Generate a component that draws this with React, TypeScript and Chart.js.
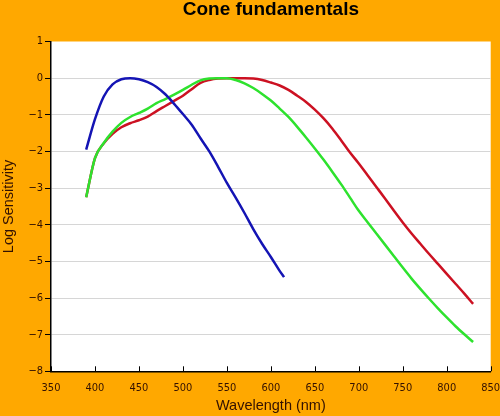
import React, { useEffect, useRef } from "react";
import { Chart, registerables } from "chart.js";

Chart.register(...registerables);

const titleText = "Cone fundamentals";
const xTitle = "Wavelength (nm)";
const yTitle = "Log Sensitivity";

const xMin = 350;
const xMax = 850;
const xStep = 50;
const yMin = -8;
const yMax = 1;
const yStep = 1;

const blueNm = [390, 400, 410, 420, 430, 440, 450, 460, 470, 480, 490, 500, 510, 520, 530, 540, 550, 560, 570, 580, 590, 600, 610, 615];
const blueLog = [-1.95, -1.12, -0.5, -0.17, -0.03, 0.0, -0.03, -0.11, -0.24, -0.44, -0.7, -0.98, -1.27, -1.64, -2.0, -2.42, -2.86, -3.26, -3.68, -4.12, -4.52, -4.88, -5.26, -5.43];

const lmNm = [390, 400, 410, 420, 430, 440, 450, 460, 470, 480, 490, 500, 510, 520, 530, 540, 550, 560, 570, 580, 590, 600, 610, 620, 630, 640, 650, 660, 670, 680, 690, 700, 710, 720, 730, 740, 750, 760, 770, 780, 790, 800, 810, 820, 830];
const redLog = [-3.25, -2.18, -1.78, -1.52, -1.34, -1.23, -1.15, -1.05, -0.9, -0.76, -0.62, -0.48, -0.3, -0.13, -0.05, -0.01, 0.0, 0.0, 0.0, -0.01, -0.05, -0.12, -0.2, -0.32, -0.48, -0.65, -0.86, -1.1, -1.38, -1.7, -2.03, -2.33, -2.65, -2.97, -3.29, -3.62, -3.94, -4.24, -4.52, -4.8, -5.07, -5.34, -5.61, -5.88, -6.16];
const greenLog = [-3.25, -2.18, -1.77, -1.46, -1.22, -1.06, -0.95, -0.83, -0.68, -0.57, -0.45, -0.32, -0.18, -0.06, -0.01, 0.0, 0.0, -0.05, -0.14, -0.27, -0.43, -0.61, -0.83, -1.06, -1.33, -1.62, -1.92, -2.23, -2.56, -2.9, -3.26, -3.62, -3.93, -4.24, -4.55, -4.86, -5.17, -5.47, -5.75, -6.02, -6.28, -6.53, -6.77, -6.99, -7.2];

const toPoints = (xs: number[], ys: number[]) => xs.map((x, i) => ({ x, y: ys[i] }));

const textColor = "#331100";

const plotBgPlugin = {
  id: "plotBg",
  beforeDraw(chart: any) {
    const { ctx, chartArea } = chart;
    ctx.save();
    ctx.fillStyle = "#ffffff";
    ctx.fillRect(chartArea.left, chartArea.top, chartArea.right - chartArea.left, chartArea.bottom - chartArea.top);
    ctx.restore();
  },
};

const innerTicksPlugin = {
  id: "innerTicks",
  afterDatasetsDraw(chart: any) {
    const { ctx } = chart;
    const xs = chart.scales.x;
    ctx.save();
    ctx.strokeStyle = "#000000";
    ctx.lineWidth = 1;
    xs.ticks.forEach((t: any) => {
      const px = Math.round(xs.getPixelForValue(t.value)) + 0.5;
      ctx.beginPath();
      ctx.moveTo(px, xs.top);
      ctx.lineTo(px, xs.top - 5);
      ctx.stroke();
    });
    ctx.restore();
  },
};

export default function App() {
  const canvasRef = useRef<HTMLCanvasElement | null>(null);

  useEffect(() => {
    document.body.style.margin = "0";
    const canvas = canvasRef.current;
    if (!canvas) return;
    const chart = new Chart(canvas, {
      type: "line",
      data: {
        datasets: [
          {
            label: "S",
            data: toPoints(blueNm, blueLog),
            borderColor: "#1414b4",
            borderWidth: 2.5,
            pointRadius: 0,
            cubicInterpolationMode: "monotone",
            fill: false,
          },
          {
            label: "M",
            data: toPoints(lmNm, greenLog),
            borderColor: "#2ee22e",
            borderWidth: 2.5,
            pointRadius: 0,
            cubicInterpolationMode: "monotone",
            fill: false,
          },
          {
            label: "L",
            data: toPoints(lmNm, redLog),
            borderColor: "#cc1122",
            borderWidth: 2.5,
            pointRadius: 0,
            cubicInterpolationMode: "monotone",
            fill: false,
          },
        ],
      },
      options: {
        animation: false,
        responsive: true,
        maintainAspectRatio: false,
        layout: { padding: { left: 0, right: 0, top: 0, bottom: 0 } },
        plugins: {
          legend: { display: false },
          tooltip: { enabled: false },
          title: {
            display: true,
            text: titleText,
            color: "#000000",
            fullSize: false,
            font: { family: "'Liberation Sans', Arial, sans-serif", size: 19, weight: "bold", lineHeight: 1.0 },
            padding: { top: 0, bottom: 22.5 },
          },
        },
        scales: {
          x: {
            type: "linear",
            min: xMin,
            max: xMax,
            afterFit(scale: any) {
              scale.height = 44.7;
              scale.paddingLeft = 0;
              scale.paddingRight = 9.3;
            },
            ticks: {
              stepSize: xStep,
              color: textColor,
              padding: 10,
              maxRotation: 0,
              font: { family: "'DejaVu Sans Condensed', 'DejaVu Sans', sans-serif", size: 11 },
            },
            grid: { display: false, drawTicks: false, tickLength: 0 },
            border: { display: true, color: "#000000", width: 1.5 },
            title: {
              display: true,
              text: xTitle,
              color: textColor,
              font: { family: "'Liberation Sans', Arial, sans-serif", size: 14.5 },
              padding: { top: 0, bottom: 1 },
            },
          },
          y: {
            type: "linear",
            min: yMin,
            max: yMax,
            afterFit(scale: any) {
              scale.width = 51;
            },
            ticks: {
              stepSize: yStep,
              color: textColor,
              padding: 2,
              font: { family: "'DejaVu Sans Condensed', 'DejaVu Sans', sans-serif", size: 11 },
              callback: (v: any) => String(v).replace("-", "\u2212"),
            },
            grid: {
              display: true,
              drawTicks: true,
              tickLength: 6,
              tickColor: "#000000",
              lineWidth: 1,
              color: (ctx: any) => {
                const v = ctx.tick ? ctx.tick.value : 0;
                return v > yMin && v < yMax ? "#d6d6d6" : "rgba(0,0,0,0)";
              },
            },
            border: { display: true, color: "#000000", width: 1.5 },
            title: {
              display: true,
              text: yTitle,
              color: textColor,
              font: { family: "'Liberation Sans', Arial, sans-serif", size: 14.5 },
              padding: { top: 0, bottom: 0 },
            },
          },
        },
      },
      plugins: [plotBgPlugin, innerTicksPlugin],
    } as any);
    return () => {
      chart.destroy();
    };
  }, []);

  return (
    <div style={{ width: 500, height: 416, background: "#FFA800", position: "relative" }}>
      <canvas ref={canvasRef} />
    </div>
  );
}
